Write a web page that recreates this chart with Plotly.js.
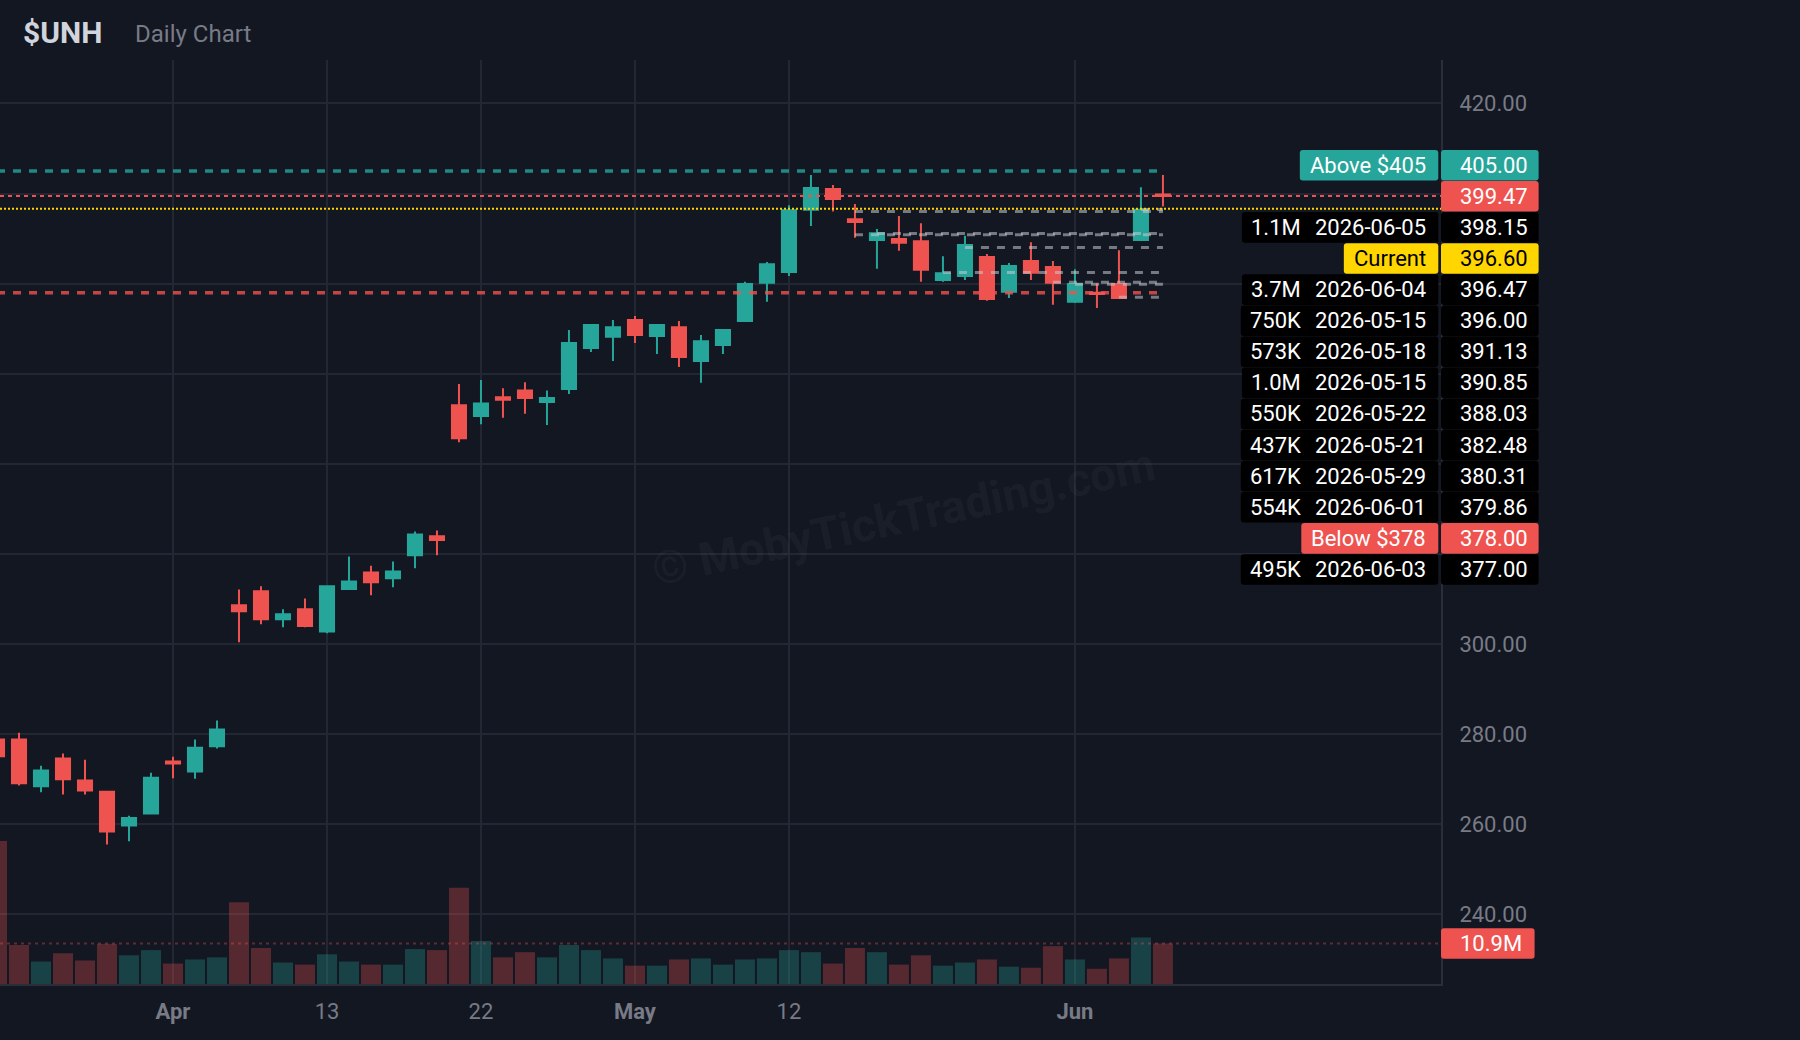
<!DOCTYPE html>
<html><head><meta charset="utf-8">
<script src="https://cdn.plot.ly/plotly-3.0.1.min.js"></script>
<style>html,body{margin:0;padding:0;background:#131722;}#chart{width:1800px;height:1040px;}</style>
</head><body><div id="chart"></div>
<script>
// ---------------- DATA ----------------
const symbol = '$UNH';
const subtitle = 'Daily Chart';
const dates = ['2026-03-20','2026-03-23','2026-03-24','2026-03-25','2026-03-26','2026-03-27','2026-03-30','2026-03-31',
 '2026-04-01','2026-04-02','2026-04-06','2026-04-07','2026-04-08','2026-04-09','2026-04-10','2026-04-13','2026-04-14',
 '2026-04-15','2026-04-16','2026-04-17','2026-04-20','2026-04-21','2026-04-22','2026-04-23','2026-04-24','2026-04-27',
 '2026-04-28','2026-04-29','2026-04-30','2026-05-01','2026-05-04','2026-05-05','2026-05-06','2026-05-07','2026-05-08',
 '2026-05-11','2026-05-12','2026-05-13','2026-05-14','2026-05-15','2026-05-18','2026-05-19','2026-05-20','2026-05-21',
 '2026-05-22','2026-05-26','2026-05-27','2026-05-28','2026-05-29','2026-06-01','2026-06-02','2026-06-03','2026-06-04','2026-06-05'];
const opens  = [278.8,278.8,268.4,274.6,269.7,267.2,259.7,262.4,273.9,271.7,277.3,308.6,311.7,305.5,307.7,302.8,312.2,315.9,314.6,319.7,
 323.9,353.0,350.6,354.8,356.3,353.7,356.6,365.7,368.2,371.9,368.4,370.3,362.8,366.4,371.7,380.2,382.6,396.4,401.0,394.3,
 389.7,389.9,389.4,380.8,381.7,385.9,378.2,385.0,383.7,376.0,378.0,379.9,389.7,399.8];
const highs  = [279.3,280.3,273.0,275.7,274.3,267.3,261.9,271.4,275.0,278.8,283.0,312.1,312.8,307.7,310.1,313.0,319.4,317.4,318.3,325.0,
 325.2,357.7,358.6,356.8,358.1,356.3,369.7,370.9,371.9,372.8,370.9,371.7,368.6,369.8,380.4,384.8,397.4,404.1,401.9,397.7,
 392.1,395.0,393.4,386.1,390.6,386.6,384.6,389.2,385.0,383.2,380.0,387.4,401.4,404.1];
const lows   = [274.6,268.6,267.1,266.6,266.6,255.5,256.2,262.2,270.2,270.1,276.8,300.4,304.4,303.7,303.7,302.4,312.1,310.8,312.6,316.8,
 319.7,344.8,348.8,350.2,351.1,348.6,355.5,364.8,362.8,366.8,364.4,361.5,358.0,364.4,371.5,376.0,381.7,392.8,396.0,390.2,
 383.3,387.3,380.4,380.4,380.8,376.2,376.8,380.8,375.3,375.7,374.6,376.7,389.6,397.1];
const closes = [275.1,269.1,271.9,270.0,267.5,258.4,261.4,270.3,273.5,277.0,281.0,307.3,305.5,306.6,304.0,312.8,313.9,313.7,316.1,324.3,
 323.1,345.7,353.4,354.2,354.6,354.6,366.8,370.8,370.3,368.6,370.8,363.7,367.2,369.7,379.9,384.3,396.3,401.2,398.8,393.7,
 391.2,389.1,383.1,382.3,388.6,376.6,383.9,382.4,380.2,379.9,377.7,376.8,396.4,399.47];
const volumes = [38.5e6,10.5e6,6.06e6,8.29e6,6.33e6,10.8e6,7.73e6,9.13e6,5.50e6,6.61e6,7.17e6,22.0e6,9.69e6,5.78e6,5.22e6,8.01e6,
 6.06e6,5.22e6,5.22e6,9.41e6,9.13e6,25.9e6,11.6e6,7.17e6,8.57e6,7.17e6,10.5e6,9.13e6,6.89e6,4.94e6,4.94e6,6.61e6,6.89e6,
 5.22e6,6.61e6,6.89e6,9.13e6,8.57e6,5.50e6,9.69e6,8.57e6,5.22e6,7.73e6,4.94e6,5.78e6,6.61e6,4.66e6,4.38e6,10.2e6,6.61e6,
 4.10e6,6.89e6,12.5e6,10.9e6];
const tickDates  = ['2026-04-01','2026-04-13','2026-04-22','2026-05-01','2026-05-12','2026-06-01'];
const tickLabels = ['<b>Apr</b>','13','22','<b>May</b>','12','<b>Jun</b>'];
const aboveLevel = 405.00;
const belowLevel = 378.00;
const currentPrice = 396.60;
const levelPrices = [398.15, 396.47, 396.00, 391.13, 390.85, 388.03, 382.48, 380.31, 379.86, 377.00];
const levelVols   = ['1.1M','3.7M','750K','573K','1.0M','550K','437K','617K','554K','495K'];
const levelDates  = ['2026-06-05','2026-06-04','2026-05-15','2026-05-18','2026-05-15','2026-05-22','2026-05-21','2026-05-29','2026-06-01','2026-06-03'];
const watermark = '© MobyTickTrading.com';

// ---------------- STYLE / LAYOUT ----------------
const FONT = 'Roboto, "Liberation Sans", Arial, sans-serif';
const BG = '#131722', GRID = '#232733', AXLINE = '#2a2e39', TXT = '#787b86';
const UP = '#26a69a', DN = '#ef5350', YEL = '#ffd600';
const W = 1800, H = 1040, ML = 0, MR = 359, MT = 60, MB = 56;
const PW = W - ML - MR, PH = H - MT - MB;
const X = px => (px - ML) / PW;
const Y = py => (H - MB - py) / PH;
const PRICE_RANGE = [224.53, 429.64];
const PRICE_STEP = 20;
const VOL_MAX = 248.7e6;
const last = dates.length - 1;

const canvas = document.createElement('canvas');
const ctx = canvas.getContext('2d');
function tw(t, size, bold){ ctx.font = (bold?'bold ':'') + size + 'px Roboto'; return ctx.measureText(t).width; }

const volColors = closes.map((c,i) => c >= opens[i] ? 'rgba(38,166,154,0.3)' : 'rgba(239,83,80,0.3)');

const traces = [
  {type:'candlestick', x:dates, open:opens, high:highs, low:lows, close:closes,
   increasing:{line:{color:UP, width:2}, fillcolor:UP},
   decreasing:{line:{color:DN, width:2}, fillcolor:DN},
   whiskerwidth:0, hoverinfo:'skip', xaxis:'x', yaxis:'y', showlegend:false},
  {type:'bar', x:dates, y:volumes, marker:{color:volColors, line:{width:0}}, xaxis:'x', yaxis:'y2',
   hoverinfo:'skip', showlegend:false}
];

const shapes = [];
const annotations = [];

function rpath(xs, ys){
  return `M${xs[1]},${ys[0]} L${xs[2]},${ys[0]} Q${xs[3]},${ys[0]} ${xs[3]},${ys[1]} L${xs[3]},${ys[2]} Q${xs[3]},${ys[3]} ${xs[2]},${ys[3]} L${xs[1]},${ys[3]} Q${xs[0]},${ys[3]} ${xs[0]},${ys[2]} L${xs[0]},${ys[1]} Q${xs[0]},${ys[0]} ${xs[1]},${ys[0]} Z`;
}
function boxPx(x0,x1,cy,h,color){
  const r = 3, t = cy - h/2, b = cy + h/2;
  shapes.push({type:'path', xref:'paper', yref:'paper', layer:'above', fillcolor:color, line:{width:0},
    path: rpath([X(x0),X(x0+r),X(x1-r),X(x1)], [Y(t),Y(t+r),Y(b-r),Y(b)])});
}
function txt(text, xpx, ypx, anchor, color, size, bold){
  annotations.push({xref:'paper', yref:'paper', x:X(xpx), y:Y(ypx), xanchor:anchor, yanchor:'middle',
    text: bold ? '<b>'+text+'</b>' : text, showarrow:false, borderpad:0, borderwidth:0,
    font:{family:FONT, size:size, color:color}});
}

// level lines
shapes.push({type:'line', xref:'x', yref:'y', x0:dates[0], x1:dates[last], y0:aboveLevel, y1:aboveLevel,
  line:{color:'rgba(38,166,154,0.8)', width:3.5, dash:'8px,8px'}, layer:'above'});
shapes.push({type:'line', xref:'x', yref:'y', x0:dates[0], x1:dates[last], y0:belowLevel, y1:belowLevel,
  line:{color:'rgba(239,83,80,0.8)', width:3.5, dash:'8px,8px'}, layer:'above'});
levelPrices.forEach((p,i) => {
  shapes.push({type:'line', xref:'x', yref:'y', x0:levelDates[i], x1:dates[last], y0:p, y1:p,
    line:{color:'rgba(200,202,208,0.55)', width:3, dash:'8px,8px'}, layer:'above'});
});
shapes.push({type:'line', xref:'paper', yref:'y', x0:0, x1:1, y0:closes[last], y1:closes[last],
  line:{color:DN, width:2, dash:'4px,4px'}, layer:'above'});
shapes.push({type:'line', xref:'paper', yref:'y', x0:0, x1:1, y0:currentPrice, y1:currentPrice,
  line:{color:YEL, width:2, dash:'2px,2px'}, layer:'above'});
shapes.push({type:'line', xref:'paper', yref:'y2', x0:0, x1:1, y0:volumes[last], y1:volumes[last],
  line:{color:'rgba(239,83,80,0.35)', width:2, dash:'3px,4px'}, layer:'above'});

// right-side label stack
const rows = [];
rows.push({p:aboveLevel, label:'Above $' + aboveLevel.toFixed(0), bg:UP, fg:'#ffffff'});
rows.push({p:closes[last], label:null, bg:DN, fg:'#ffffff'});
rows.push({p:currentPrice, label:'Current', bg:YEL, fg:'#000000'});
rows.push({p:belowLevel, label:'Below $' + belowLevel.toFixed(0), bg:DN, fg:'#ffffff'});
levelPrices.forEach((p,i) => rows.push({p:p, vol:levelVols[i], date:levelDates[i], bg:'#000000', fg:'#ffffff'}));
rows.sort((a,b) => b.p - a.p);
const ROW0 = 165.2, ROWH = 31.1, BOXH = 30.6, FS = 22;
const VAL_X = 1460, LAB_R = 1426, VOL_R = 1300.7, LBOX_R = 1438.3, VBOX_L = 1441;
rows.forEach((r,i) => {
  const cy = ROW0 + ROWH*i;
  const val = r.p.toFixed(2);
  boxPx(VBOX_L, VAL_X + tw(val,FS) + 11, cy, BOXH, r.bg);
  txt(val, VAL_X, cy, 'left', r.fg, FS);
  if (r.label) {
    boxPx(LAB_R - tw(r.label,FS) - 10, LBOX_R, cy, BOXH, r.bg);
    txt(r.label, LAB_R, cy, 'right', r.fg, FS);
  } else if (r.vol) {
    boxPx(VOL_R - tw(r.vol,FS) - 9, LBOX_R, cy, BOXH, r.bg);
    txt(r.vol, VOL_R, cy, 'right', r.fg, FS);
    txt(r.date, LAB_R, cy, 'right', r.fg, FS);
  }
});
const stackTop = ROW0 - BOXH/2, stackBot = ROW0 + ROWH*(rows.length-1) + BOXH/2;

// price ticks: labels that sit under the label stack are hidden, as in the source chart
const priceToPx = p => MT + (PRICE_RANGE[1]-p)/(PRICE_RANGE[1]-PRICE_RANGE[0])*PH;
const yTickVals = [];
for (let v = Math.ceil(PRICE_RANGE[0]/PRICE_STEP)*PRICE_STEP; v <= PRICE_RANGE[1]; v += PRICE_STEP) yTickVals.push(v);
const yTickText = yTickVals.map(v => { const py = priceToPx(v); return (py > stackTop - 10 && py < stackBot + 10) ? '' : v.toFixed(2); });

// volume last-value label (positioned on the volume scale)
{
  const v = volumes[last];
  const upp = VOL_MAX / PH;
  const h = BOXH/2, r = 3;
  const label = (v/1e6).toFixed(1) + 'M';
  const x1 = VAL_X + tw(label,FS) + 12.5;
  shapes.push({type:'path', xref:'paper', yref:'y2', layer:'above', fillcolor:DN, line:{width:0},
    path: rpath([X(VBOX_L),X(VBOX_L+r),X(x1-r),X(x1)], [v+h*upp, v+(h-r)*upp, v-(h-r)*upp, v-h*upp])});
  annotations.push({xref:'paper', yref:'y2', x:X(VAL_X), y:v, xanchor:'left', yanchor:'middle', text:label,
    showarrow:false, borderpad:0, borderwidth:0, font:{family:FONT, size:FS, color:'#ffffff'}});
}

// title
txt(symbol, 23, 32.2, 'left', '#d1d4dc', 30, true);
txt(subtitle, 135, 33.8, 'left', '#787b86', 24, false);

// watermark
annotations.push({xref:'paper', yref:'paper', x:X(903), y:Y(517), xanchor:'center', yanchor:'middle',
  text:'<b>'+watermark+'</b>', textangle:-12, showarrow:false,
  font:{family:FONT, size:46, color:'rgba(255,255,255,0.045)'}});

const layout = {
  width:W, height:H, margin:{l:ML, r:MR, t:MT, b:MB, pad:0},
  paper_bgcolor:BG, plot_bgcolor:BG, showlegend:false,
  bargap:0.09, boxgap:0.36, boxgroupgap:0,
  font:{family:FONT, size:FS, color:TXT},
  xaxis:{type:'category', range:[0.136, 65.64], tickvals:tickDates, ticktext:tickLabels,
    showgrid:true, gridcolor:GRID, gridwidth:2, showline:true, linecolor:AXLINE, linewidth:2,
    ticks:'', tickfont:{family:FONT, size:FS, color:TXT}, ticklabelstandoff:7,
    rangeslider:{visible:false}, fixedrange:true, zeroline:false, automargin:false},
  yaxis:{side:'right', range:PRICE_RANGE, tickmode:'array', tickvals:yTickVals, ticktext:yTickText,
    showgrid:true, gridcolor:GRID, gridwidth:2, showline:true, linecolor:AXLINE, linewidth:2,
    ticks:'', tickfont:{family:FONT, size:FS, color:TXT}, ticklabelstandoff:12,
    zeroline:false, fixedrange:true, automargin:false},
  yaxis2:{overlaying:'y', side:'right', range:[0, VOL_MAX], visible:false, fixedrange:true, showgrid:false, zeroline:false},
  shapes:shapes, annotations:annotations
};
Plotly.newPlot('chart', traces, layout, {staticPlot:true, displayModeBar:false});
</script></body></html>
